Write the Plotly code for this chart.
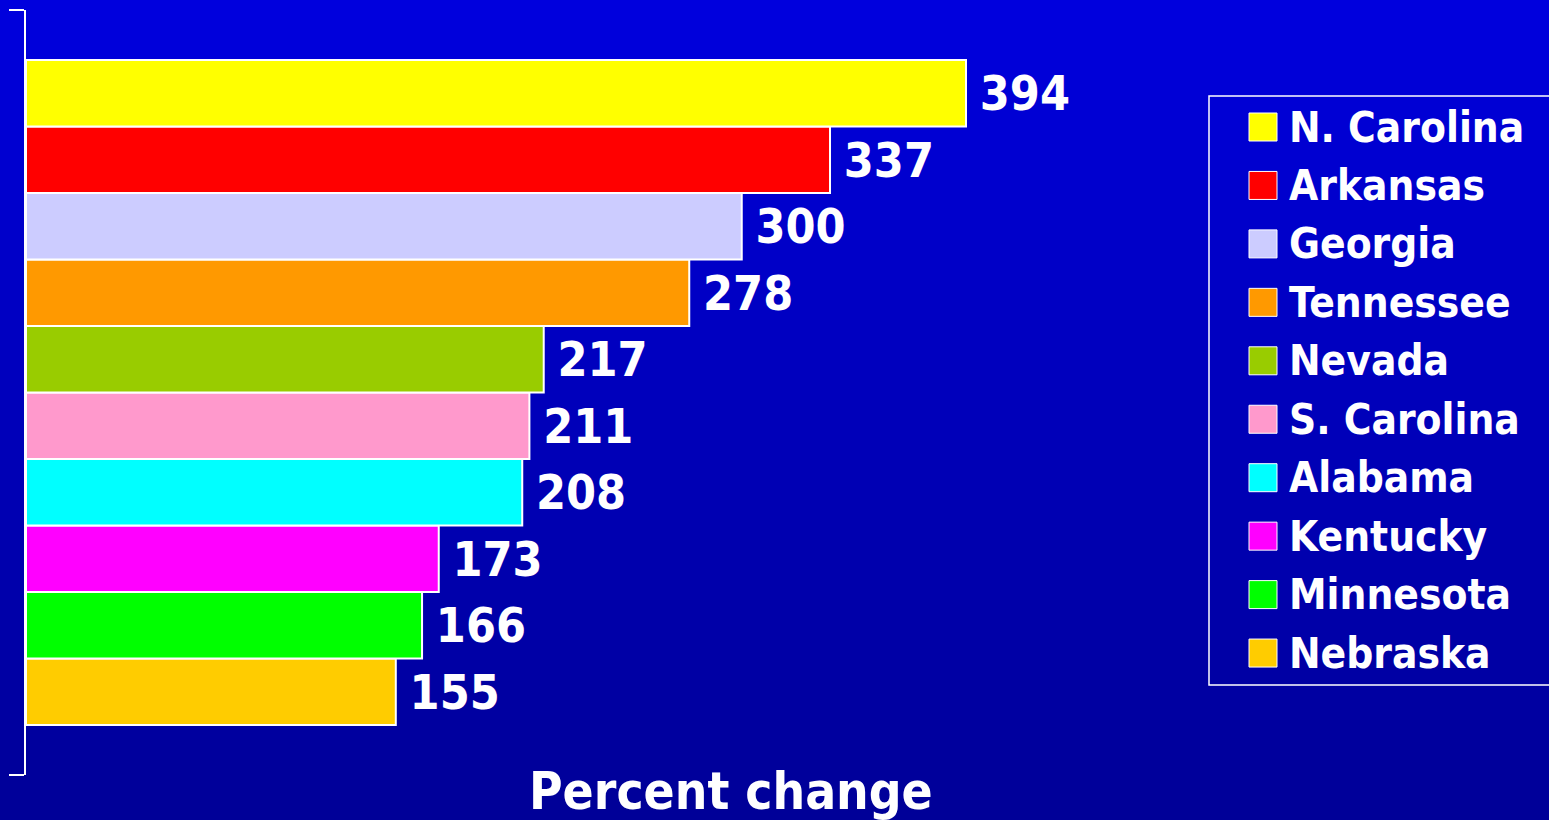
import plotly.graph_objects as go

states = ["N. Carolina", "Arkansas", "Georgia", "Tennessee", "Nevada",
          "S. Carolina", "Alabama", "Kentucky", "Minnesota", "Nebraska"]
values = [394, 337, 300, 278, 217, 211, 208, 173, 166, 155]
colors = ["#FFFF00", "#FF0000", "#CCCCFF", "#FF9900", "#99CC00",
          "#FF99CC", "#00FFFF", "#FF00FF", "#00FF00", "#FFCC00"]
x_title = "Percent change"

W, H = 1549, 820
ML, MR, MT, MB = 26, 0, 10, 45
PW, PH = W - ML - MR, H - MT - MB
FONT = "DejaVu Sans Condensed, DejaVu Sans, Verdana, sans-serif"


def px_x(p):
    return (p - ML) / PW


def px_y(p):
    return (H - MB - p) / PH


fig = go.Figure()
# traces added bottom-to-top so the first state sits on top
for name, val, col in reversed(list(zip(states, values, colors))):
    fig.add_trace(go.Bar(
        y=[""], x=[val], name=name, orientation="h",
        marker=dict(color=col, line=dict(color="white", width=2)),
        text=[val], texttemplate="\u2005%{x}", textposition="outside",
        textfont=dict(color="white", size=48, family=FONT, weight="bold"),
        outsidetextfont=dict(color="white", size=48, family=FONT, weight="bold"),
        constraintext="none", cliponaxis=False, showlegend=False,
        hoverinfo="skip",
    ))

shapes = []
# vertical background gradient
n = 41
top = (0, 0, 0xDD)
bot = (0, 0, 0x98)
for i in range(n):
    t = i / (n - 1)
    c = tuple(round(top[k] + (bot[k] - top[k]) * t) for k in range(3))
    y0p = i * H / n
    y1p = (i + 1) * H / n + 1
    shapes.append(dict(type="rect", xref="paper", yref="paper",
                       x0=px_x(-5), x1=px_x(W + 5), y0=px_y(y1p), y1=px_y(y0p),
                       fillcolor="rgb(%d,%d,%d)" % c, line=dict(width=0),
                       layer="below"))

# legend box
shapes.append(dict(type="rect", xref="paper", yref="paper",
                   x0=px_x(1209), x1=px_x(W + 20), y0=px_y(685), y1=px_y(96),
                   line=dict(color="white", width=1.5), fillcolor="rgba(0,0,0,0)"))

annotations = []
row0, step = 127, 58.45
for i, (name, col) in enumerate(zip(states, colors)):
    cy = row0 + i * step
    shapes.append(dict(type="rect", xref="paper", yref="paper",
                       x0=px_x(1249), x1=px_x(1277), y0=px_y(cy + 14), y1=px_y(cy - 14),
                       fillcolor=col, line=dict(color="white", width=1)))
    annotations.append(dict(xref="paper", yref="paper", x=px_x(1287), y=px_y(cy),
                            xanchor="left", yanchor="middle", showarrow=False,
                            text="<b>%s</b>" % name,
                            font=dict(color="white", size=42, family=FONT)))

annotations.append(dict(xref="paper", yref="paper", x=px_x(731), y=px_y(792),
                        xanchor="center", yanchor="middle", showarrow=False,
                        text="<b>%s</b>" % x_title,
                        font=dict(color="white", size=51, family=FONT)))

fig.update_layout(
    width=W, height=H,
    margin=dict(l=ML, r=MR, t=MT, b=MB, pad=0),
    paper_bgcolor="#0000BB", plot_bgcolor="rgba(0,0,0,0)",
    barmode="group", bargap=0.1307, bargroupgap=0,
    showlegend=False,
    shapes=shapes, annotations=annotations,
    font=dict(family=FONT, color="white"),
    xaxis=dict(range=[0, PW / (940 / 394)], visible=False, fixedrange=True),
    yaxis=dict(type="category", range=[-0.5, 0.5], showline=True,
               linecolor="white", linewidth=2, ticks="outside", tickson="boundaries",
               ticklen=15, tickcolor="white", tickwidth=2, showgrid=False,
               showticklabels=False, zeroline=False, fixedrange=True),
)

fig.write_html("out.html", config={"displayModeBar": False, "staticPlot": True},
               post_script="document.body.style.margin='0';document.body.style.overflow='hidden';")
